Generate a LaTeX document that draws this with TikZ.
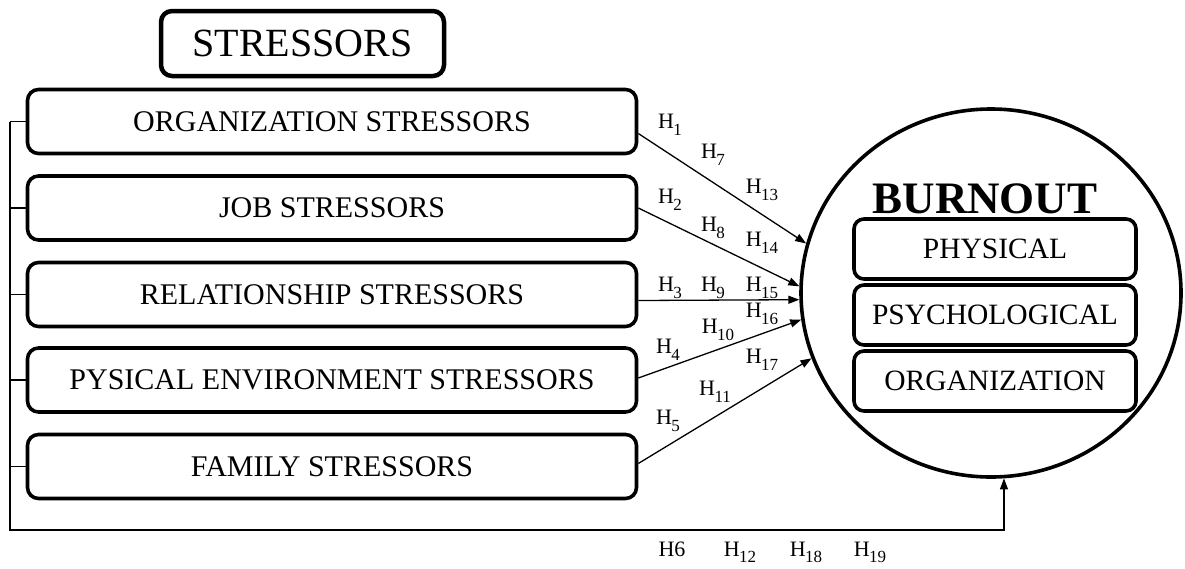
\documentclass[tikz,border=0pt]{standalone}
\usepackage{fontspec}
\setmainfont{Liberation Serif}
\usetikzlibrary{arrows.meta,shapes.geometric}
\newcommand{\Hs}[1]{H\kern-0.5pt\raisebox{-0.3em}{\fontsize{17}{17}\selectfont #1}}
\tikzset{
  sbox/.style={draw, line width=3.6pt, rounded corners=11pt, minimum width=609pt, minimum height=64pt, inner sep=0pt, font=\fontsize{30}{33}\selectfont},
  bbox/.style={draw, line width=3.6pt, rounded corners=10pt, minimum width=282pt, minimum height=60pt, inner sep=0pt, font=\fontsize{29.5}{32}\selectfont},
  hl/.style={inner sep=0pt, font=\fontsize{22}{24}\selectfont},
  conn/.style={line width=1.3pt},
  arr/.style={line width=1.3pt, -{Triangle[length=11pt,width=8pt]}},
}
\begin{document}
\begin{tikzpicture}[x=1pt,y=-1pt]
\useasboundingbox (0,0) rectangle (1185,568);
% title
\node[draw, line width=4.5pt, rounded corners=11pt, minimum width=283pt, minimum height=65pt, inner sep=0pt, font=\fontsize{40}{44}\selectfont] (title) at (302.5,43.5) {STRESSORS};
% stressor boxes
\node[sbox] (b1) at (332,121.5) {ORGANIZATION STRESSORS};
\node[sbox] (b2) at (332,208) {JOB STRESSORS};
\node[sbox] (b3) at (332,294.5) {RELATIONSHIP STRESSORS};
\node[sbox] (b4) at (332,380) {PYSICAL ENVIRONMENT STRESSORS};
\node[sbox] (b5) at (332,466.5) {FAMILY STRESSORS};
% burnout ellipse
\node[draw, ellipse, line width=3.6pt, minimum width=380pt, minimum height=368pt, inner sep=0pt] (burn) at (991,293) {};
\node[inner sep=0pt, anchor=base, font=\fontsize{45}{48}\selectfont\bfseries] (bt) at (985,213) {BURNOUT};
\node[bbox] (p1) at (995,249) {PHYSICAL};
\node[bbox] (p2) at (995,315) {PSYCHOLOGICAL};
\node[bbox] (p3) at (995,381) {ORGANIZATION};
% bracket
\coordinate (lx) at (10,0);
\coordinate (ly) at (0,530);
\draw[conn] (b1.west) -- (b1.west -| lx);
\draw[conn] (b2.west) -- (b2.west -| lx);
\draw[conn] (b3.west) -- (b3.west -| lx);
\draw[conn] (b4.west) -- (b4.west -| lx);
\draw[conn] (b5.west) -- (b5.west -| lx);
\draw[arr] (b1.west -| lx) -- (lx |- ly) -| (burn.274.6);
% arrows
\draw[arr] ([yshift=-12pt]b1.east) -- (burn.165.5);
\draw[arr] (b2.east) -- (burn.178);
\draw[arr] ([yshift=-6pt]b3.east) -- (burn.182);
\draw[arr] ([yshift=2pt]b4.east) -- (burn.188);
\draw[arr] ([yshift=3pt]b5.east) -- (burn.200);
% labels
\node[hl] (h1) at (670,125) {\Hs{1}};
\node[hl] (h7) at (713,155) {\Hs{7}};
\node[hl] (h13) at (762,190) {\Hs{13}};
\node[hl] (h2) at (670,200) {\Hs{2}};
\node[hl] (h8) at (713,228) {\Hs{8}};
\node[hl] (h14) at (762,243) {\Hs{14}};
\node[hl] (h3) at (670,288) {\Hs{3}};
\node[hl] (h9) at (713,288) {\Hs{9}};
\node[hl] (h15) at (762,288) {\Hs{15}};
\node[hl] (h16) at (762,314) {\Hs{16}};
\node[hl] (h10) at (718,330) {\Hs{10}};
\node[hl] (h4) at (668,350) {\Hs{4}};
\node[hl] (h17) at (762,360) {\Hs{17}};
\node[hl] (h11) at (715,392) {\Hs{11}};
\node[hl] (h5) at (668,421) {\Hs{5}};
\node[hl, anchor=base] (h6) at (672,556) {H6};
\node[hl, anchor=base] (h12) at (740,556) {\Hs{12}};
\node[hl, anchor=base] (h18) at (806,556) {\Hs{18}};
\node[hl, anchor=base] (h19) at (870,556) {\Hs{19}};
\end{tikzpicture}
\end{document}
